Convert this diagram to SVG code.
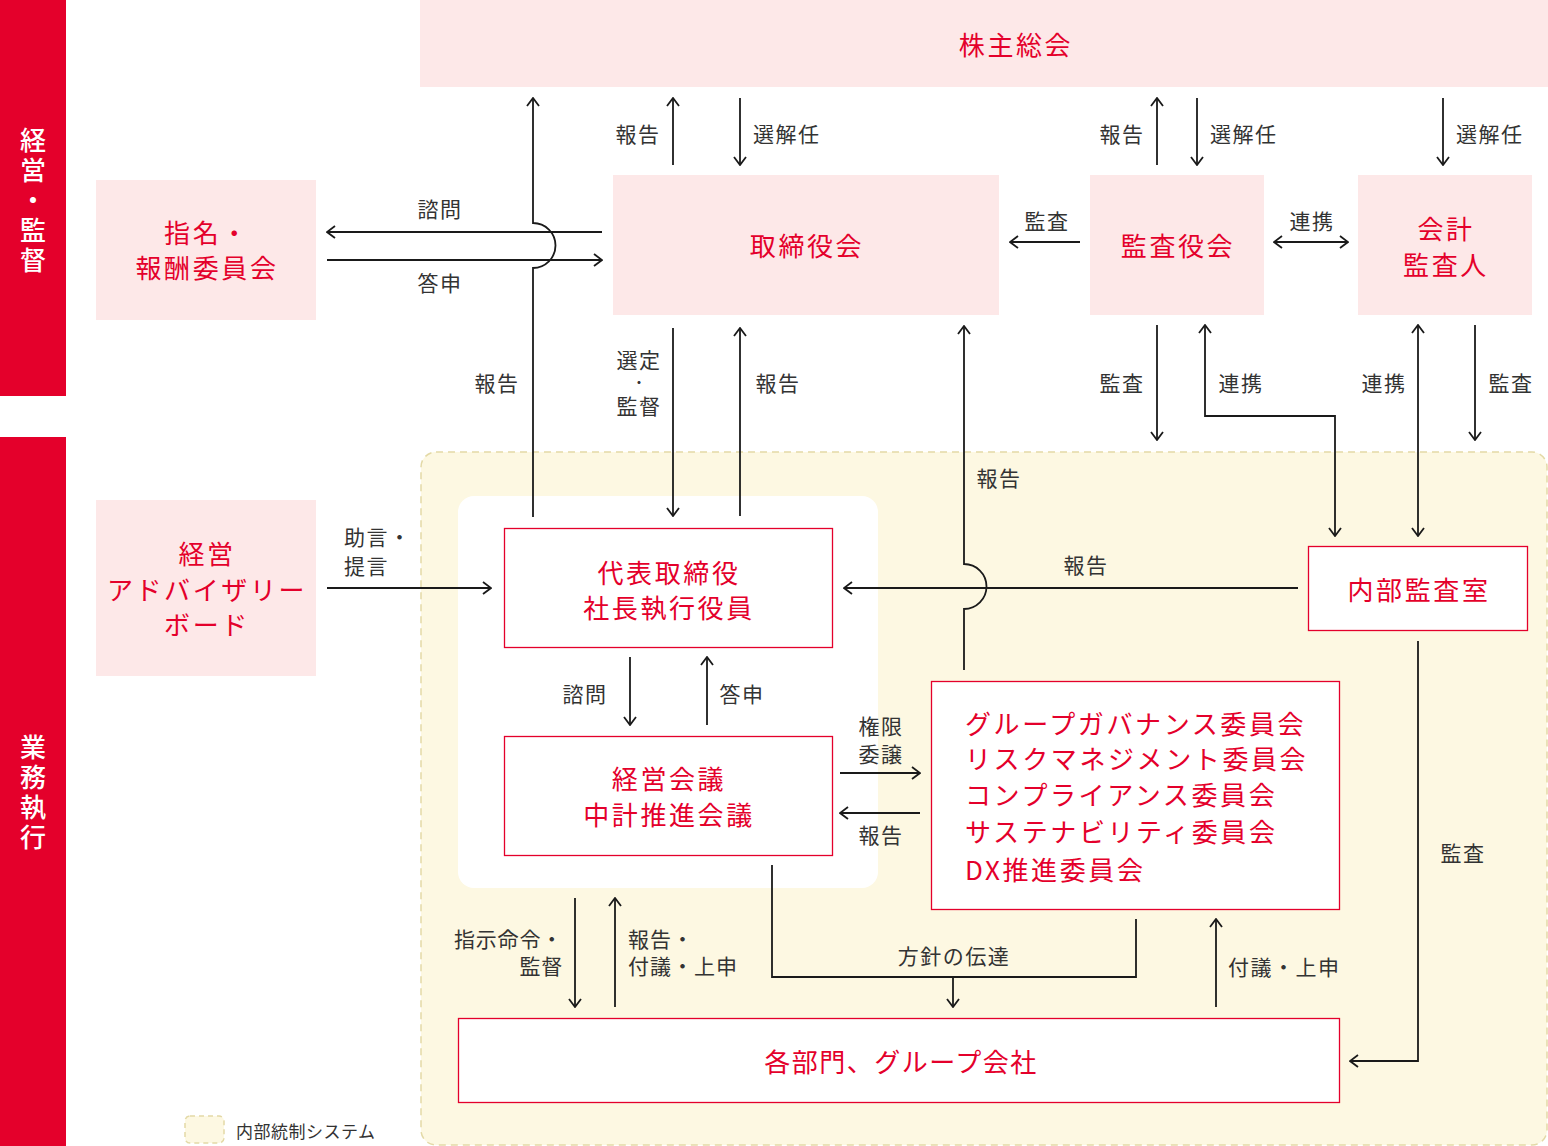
<svg xmlns="http://www.w3.org/2000/svg" width="1548" height="1146" viewBox="0 0 1548 1146">
<defs>
<style>
text{font-family:"Noto Sans CJK JP","Noto Sans",sans-serif;dominant-baseline:central}
.lbl{font-size:21px;letter-spacing:1.5px;fill:#333;text-anchor:middle}
.lbl-l{font-size:21px;letter-spacing:1.5px;fill:#333;text-anchor:start}
.lbl-r{font-size:21px;letter-spacing:1.5px;fill:#333;text-anchor:end}
.nt{font-size:26px;letter-spacing:2.6px;fill:#E4002B;text-anchor:middle}
.ntl{font-size:26px;letter-spacing:2.6px;fill:#E4002B;text-anchor:start}
.side{font-size:26px;fill:#fff;text-anchor:middle;font-weight:500;writing-mode:vertical-rl;letter-spacing:4px}
.pink{fill:#FDE8E8}
.wbox{fill:#fff;stroke:#E4002B;stroke-width:1.3}
.ln{fill:none;stroke:#1a1a1a;stroke-width:1.8}
.a{marker-end:url(#ah)}
.aa{marker-end:url(#ah);marker-start:url(#ah)}
</style>
<marker id="ah" viewBox="0 0 10 14" refX="9" refY="7" markerWidth="10" markerHeight="14" markerUnits="userSpaceOnUse" orient="auto-start-reverse">
<path d="M1,1 L9,7 L1,13" fill="none" stroke="#1a1a1a" stroke-width="1.8"/>
</marker>
</defs>

<g id="side-bars">
<rect x="0" y="0" width="66" height="396" fill="#E4002B"/>
<rect x="0" y="437" width="66" height="709" fill="#E4002B"/>
<text class="side" x="33" y="202">経営・監督</text>
<text class="side" x="33" y="794">業務執行</text>
</g>

<g id="internal-control">
<rect x="421" y="452" width="1126" height="693" rx="15" fill="#FDF8E2" stroke="#E3D9A6" stroke-width="1.5" stroke-dasharray="7,5"/>
<rect x="458" y="496" width="420" height="392" rx="16" fill="#fff"/>
</g>

<g id="shareholders">
<rect class="pink" x="420" y="0" width="1128" height="87"/>
<text class="nt" x="1016" y="43">株主総会</text>
</g>

<g id="nomination">
<rect class="pink" x="96" y="180" width="220" height="140"/>
<text class="nt" y="231"><tspan x="207">指名・</tspan><tspan x="207" dy="35">報酬委員会</tspan></text>
</g>

<g id="board">
<rect class="pink" x="613" y="175" width="386" height="140"/>
<text class="nt" x="807" y="244">取締役会</text>
</g>

<g id="audit-board">
<rect class="pink" x="1090" y="175" width="174" height="140"/>
<text class="nt" x="1178" y="244">監査役会</text>
</g>

<g id="accounting-auditor">
<rect class="pink" x="1358" y="175" width="174" height="140"/>
<text class="nt" y="227"><tspan x="1446">会計</tspan><tspan x="1446" dy="36">監査人</tspan></text>
</g>

<g id="advisory">
<rect class="pink" x="96" y="500" width="220" height="176"/>
<text class="nt" y="552"><tspan x="207">経営</tspan><tspan x="207" dy="36">アドバイザリー</tspan><tspan x="207" dy="35">ボード</tspan></text>
</g>

<g id="president">
<rect class="wbox" x="504.5" y="528.5" width="328" height="119"/>
<text class="nt" y="571"><tspan x="669">代表取締役</tspan><tspan x="669" dy="35">社長執行役員</tspan></text>
</g>

<g id="management-meeting">
<rect class="wbox" x="504.5" y="736.5" width="328" height="119"/>
<text class="nt" y="777"><tspan x="669">経営会議</tspan><tspan x="669" dy="36">中計推進会議</tspan></text>
</g>

<g id="committees">
<rect class="wbox" x="931.5" y="681.5" width="408" height="228"/>
<text class="ntl" y="722"><tspan x="965">グループガバナンス委員会</tspan><tspan x="965" dy="35">リスクマネジメント委員会</tspan><tspan x="965" dy="36">コンプライアンス委員会</tspan><tspan x="965" dy="37">サステナビリティ委員会</tspan><tspan x="965" dy="38">DX推進委員会</tspan></text>
</g>

<g id="internal-audit">
<rect class="wbox" x="1308.5" y="546.5" width="219" height="84"/>
<text class="nt" x="1419" y="588">内部監査室</text>
</g>

<g id="departments">
<rect class="wbox" x="458.5" y="1018.5" width="881" height="84"/>
<text class="nt" x="901" y="1060" style="letter-spacing:1.5px">各部門、グループ会社</text>
</g>

<g id="legend">
<rect x="185" y="1116" width="39" height="27" rx="5" fill="#FDF8E2" stroke="#E3D9A6" stroke-width="1.5" stroke-dasharray="5,4"/>
<text x="236" y="1130" style="font-size:17px;fill:#333;letter-spacing:0.5px">内部統制システム</text>
</g>

<g id="connectors">
<path class="ln a" d="M533,517 V268 A22.5,22.5 0 0 0 533,223 V98"/>
<path class="ln a" d="M602,232 H327"/>
<path class="ln a" d="M327,260 H602"/>
<text class="lbl" x="440" y="208">諮問</text>
<text class="lbl" x="440" y="282">答申</text>
<text class="lbl" x="497" y="382">報告</text>

<path class="ln a" d="M673,165 V98"/>
<path class="ln a" d="M740,98 V165"/>
<text class="lbl" x="638" y="133">報告</text>
<text class="lbl-l" x="753" y="133">選解任</text>

<path class="ln a" d="M1157,165 V98"/>
<path class="ln a" d="M1197,98 V165"/>
<text class="lbl" x="1122" y="133">報告</text>
<text class="lbl-l" x="1210" y="133">選解任</text>

<path class="ln a" d="M1443,98 V165"/>
<text class="lbl-l" x="1456" y="133">選解任</text>

<path class="ln a" d="M1080,242 H1010"/>
<text class="lbl" x="1047" y="220">監査</text>
<path class="ln aa" d="M1274,242 H1348"/>
<text class="lbl" x="1312" y="220">連携</text>

<path class="ln a" d="M673,328 V516"/>
<text class="lbl" x="639" y="359">選定</text>
<text class="lbl" x="639" y="382" style="font-size:12px;font-weight:bold;letter-spacing:0">・</text>
<text class="lbl" x="639" y="405">監督</text>
<path class="ln a" d="M740,516 V328"/>
<text class="lbl" x="778" y="382">報告</text>

<path class="ln a" d="M964,670 V609 A22.5,22.5 0 0 0 964,564 V326"/>
<text class="lbl" x="999" y="477">報告</text>
<path class="ln a" d="M1298,588 H844"/>
<text class="lbl" x="1086" y="564">報告</text>

<path class="ln a" d="M1157,325 V440"/>
<text class="lbl" x="1122" y="382">監査</text>
<path class="ln aa" d="M1205,325 V416 H1335 V536"/>
<text class="lbl" x="1241" y="382">連携</text>
<path class="ln aa" d="M1418,325 V536"/>
<text class="lbl" x="1384" y="382">連携</text>
<path class="ln a" d="M1475,325 V440"/>
<text class="lbl" x="1511" y="382">監査</text>

<path class="ln a" d="M327,588 H491"/>
<text class="lbl-l" y="536"><tspan x="344">助言・</tspan><tspan x="344" dy="29">提言</tspan></text>

<path class="ln a" d="M630,657 V725"/>
<text class="lbl" x="585" y="693">諮問</text>
<path class="ln a" d="M707,725 V657"/>
<text class="lbl" x="742" y="693">答申</text>

<path class="ln a" d="M840,773 H920"/>
<text class="lbl" y="725"><tspan x="881">権限</tspan><tspan x="881" dy="28">委譲</tspan></text>
<path class="ln a" d="M920,813 H840"/>
<text class="lbl" x="881" y="834">報告</text>

<path class="ln a" d="M575,898 V1007"/>
<text class="lbl-r" y="938" style="letter-spacing:0.8px"><tspan x="563">指示命令・</tspan><tspan x="563" dy="27">監督</tspan></text>
<path class="ln a" d="M615,1007 V898"/>
<text class="lbl-l" y="938" style="letter-spacing:1px"><tspan x="628">報告・</tspan><tspan x="628" dy="27">付議・上申</tspan></text>

<path class="ln" d="M772,865 V977 H1136 V919"/>
<path class="ln a" d="M953,977 V1007"/>
<text class="lbl" x="954" y="955">方針の伝達</text>

<path class="ln a" d="M1216,1007 V919"/>
<text class="lbl-l" x="1228" y="966">付議・上申</text>

<path class="ln a" d="M1418,641 V1061 H1350"/>
<text class="lbl" x="1463" y="852">監査</text>
</g>
</svg>
